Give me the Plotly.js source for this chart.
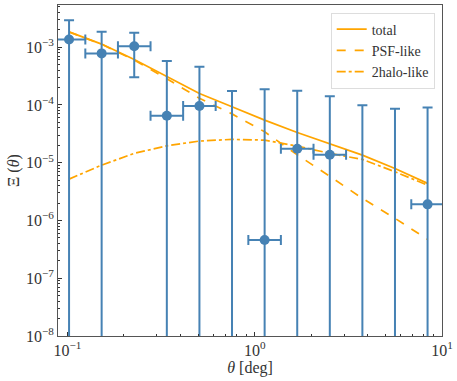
<!DOCTYPE html>
<html>
<head>
<meta charset="utf-8">
<script src="https://cdn.plot.ly/plotly-3.0.1.min.js"></script>
<style>
	html, body { margin: 0; padding: 0; background: #fff; }
	#plot { width: 457px; height: 381px; }
</style>
</head>
<body>
<div id="plot"></div>
<script>
// bin centres and bin edges (deg)
var theta = [0.1021, 0.1524, 0.2275, 0.3396, 0.5070, 0.7568, 1.130, 1.687, 2.518, 3.758, 5.61, 8.375];
var thetaLo = [0.0836, 0.1247, 0.1862, 0.278, 0.415, 0.619, 0.925, 1.380, 2.061, 3.076, 4.592, 6.855];
var thetaHi = [0.1247, 0.1862, 0.278, 0.415, 0.619, 0.925, 1.380, 2.061, 3.076, 4.592, 6.855, 10.23];

// measured Xi(theta); points below the axis are not visible in the picture
var xi = [1.36e-3, 7.8e-4, 1.04e-3, 6.5e-5, 9.6e-5, 5e-9, 4.6e-7, 1.74e-5, 1.37e-5, 5e-9, 5e-9, 1.9e-6];
var xiErr = [1.57e-3, 1.06e-3, 7.4e-4, 5.1e-4, 3.6e-4, 1.75e-4, 1.86e-4, 1.58e-4, 1.28e-4, 9.9e-5, 8.6e-5, 8.87e-5];

// model curves
var total = [1.84e-3, 1.13e-3, 6.12e-4, 3.06e-4, 1.58e-4, 9.3e-5, 5.46e-5, 3.34e-5, 2.1e-5, 1.35e-5, 7.96e-6, 4.39e-6];
var psf = [1.835e-3, 1.12e-3, 5.97e-4, 2.85e-4, 1.3e-4, 7.0e-5, 3.43e-5, 1.37e-5, 5.8e-6, 2.41e-6, 1.09e-6, 4.7e-7];
var halo2 = [5.2e-6, 9.08e-6, 1.45e-5, 1.96e-5, 2.37e-5, 2.53e-5, 2.46e-5, 1.94e-5, 1.45e-5, 1.14e-5, 6.97e-6, 4.09e-6];

// tick labels
var xTickVals = [0.1, 1, 10];
var xTickText = ['10<sup>−1</sup>', '10<sup>0</sup>', '10<sup>1</sup>'];
var yTickVals = [1e-8, 1e-7, 1e-6, 1e-5, 1e-4, 1e-3];
var yTickText = ['10<sup>−8</sup>', '10<sup>−7</sup>', '10<sup>−6</sup>', '10<sup>−5</sup>', '10<sup>−4</sup>', '10<sup>−3</sup>'];

var ORANGE = '#ffa500';
var BLUE = '#4682b4';
var FONT = 'Liberation Serif, DejaVu Serif, serif';

var errPlus = theta.map((t, i) => thetaHi[i] - t);
var errMinus = theta.map((t, i) => t - thetaLo[i]);

var data = [{
	x: theta, y: total, type: 'scatter', mode: 'lines', name: 'total',
	line: {color: ORANGE, width: 1.7}
}, {
	x: theta, y: psf, type: 'scatter', mode: 'lines', name: 'PSF-like',
	line: {color: ORANGE, width: 1.7, dash: 'dash'}
}, {
	x: theta, y: halo2, type: 'scatter', mode: 'lines', name: '2halo-like',
	line: {color: ORANGE, width: 1.7, dash: 'dashdot'}
}, {
	x: theta, y: xi, type: 'scatter', mode: 'markers', showlegend: false,
	marker: {color: BLUE, size: 10},
	error_y: {type: 'data', array: xiErr, symmetric: true, color: BLUE, thickness: 2, width: 5},
	error_x: {type: 'data', array: errPlus, arrayminus: errMinus, symmetric: false, color: BLUE, thickness: 2, width: 5}
}];

var axisCommon = {
	type: 'log',
	showgrid: false,
	zeroline: false,
	showline: true,
	mirror: true,
	linecolor: '#555',
	linewidth: 1,
	ticks: 'inside',
	ticklen: 4,
	tickcolor: '#333',
	tickmode: 'array',
	tickfont: {family: FONT, size: 16, color: '#333'},
	minor: {ticks: 'inside', ticklen: 2, tickcolor: '#333', tickmode: 'linear', dtick: 'D1', showgrid: false}
};

var layout = {
	width: 457,
	height: 381,
	margin: {l: 58, r: 15, t: 5, b: 45},
	paper_bgcolor: '#fff',
	plot_bgcolor: '#fff',
	font: {family: FONT, color: '#333'},
	xaxis: Object.assign({}, axisCommon, {
		range: [-1.05, 1.0],
		tickvals: xTickVals,
		ticktext: xTickText,
		title: {text: '<i>θ</i> [deg]', font: {family: FONT, size: 16, color: '#333'}, standoff: 0}
	}),
	yaxis: Object.assign({}, axisCommon, {
		range: [-8, -2.27],
		tickvals: yTickVals,
		ticktext: yTickText,
		title: {text: 'Ξ (<i>θ</i>)', font: {family: FONT, size: 16, color: '#333'}, standoff: 2}
	}),
	showlegend: true,
	legend: {
		x: 0.981, y: 0.977, xanchor: 'right', yanchor: 'top',
		bgcolor: 'rgba(255,255,255,0.9)',
		bordercolor: '#ddd',
		borderwidth: 1,
		font: {family: FONT, size: 14, color: '#333'},
		tracegroupgap: 0
	}
};

Plotly.newPlot('plot', data, layout, {displayModeBar: false, staticPlot: true});
</script>
</body>
</html>
